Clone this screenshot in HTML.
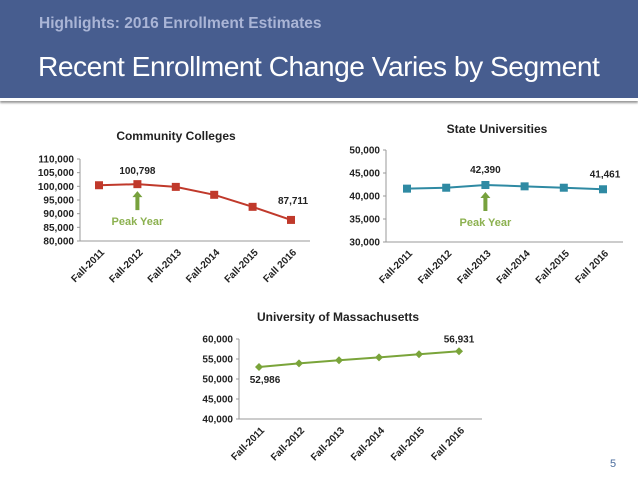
<!DOCTYPE html>
<html><head><meta charset="utf-8"><style>
body{margin:0;width:638px;height:479px;background:#fff;overflow:hidden;font-family:"Liberation Sans",sans-serif;position:relative}
#hdr{position:absolute;left:0;top:0;width:638px;height:98px;background:#475d8f;border-bottom:3px solid #fff;box-shadow:0 2px 2px #999}
#h1{position:absolute;left:39px;top:15px;color:#aab5d6;font-size:15.5px;font-weight:bold}
#h2{position:absolute;left:38px;top:50px;color:#fff;font-size:28.2px;letter-spacing:-0.5px}
#pg{position:absolute;left:610px;top:458px;color:#4b6d9e;font-size:11px}
svg{position:absolute;left:0;top:0}
</style></head><body>
<div id="hdr">
<div id="h1">Highlights: 2016 Enrollment Estimates</div>
<div id="h2">Recent Enrollment Change Varies by Segment</div>
</div>
<div id="pg">5</div>
<svg id="s" width="638" height="479"></svg>
<script>
const categories=["Fall-2011","Fall-2012","Fall-2013","Fall-2014","Fall-2015","Fall 2016"];
const ccValues=[100400,100798,99800,96900,92500,87711];
const suValues=[41600,41800,42390,42100,41800,41461];
const umValues=[52986,53900,54700,55400,56200,56931];
const ccTicks=[80000,85000,90000,95000,100000,105000,110000];
const suTicks=[30000,35000,40000,45000,50000];
const umTicks=[40000,45000,50000,55000,60000];
const NS="http://www.w3.org/2000/svg";
const svg=document.getElementById('s');
function mk(t,a,txt){const e=document.createElementNS(NS,t);for(const k in a)e.setAttribute(k,a[k]);if(txt!=null)e.textContent=txt;svg.appendChild(e);return e;}
const fmt=v=>v.toLocaleString('en-US');
function chart(o){
  const ys=v=>o.yb+(v-o.min)/(o.max-o.min)*(o.yt-o.yb);
  const xs=i=>o.x0+i*o.dx;
  let t=mk('text',{x:o.tx,y:o.ty,'font-size':12,'font-weight':'bold','text-anchor':'middle',fill:'#222'},o.title);
  
  let ax=mk('line',{x1:o.ax,y1:o.yt,x2:o.ax,y2:o.yb,stroke:'#999'});
  
  let xa=mk('line',{x1:o.ax,y1:o.yb,x2:o.xr,y2:o.yb,stroke:'#999'});
  
  o.ticks.forEach(v=>{
    mk('line',{x1:o.ax-3,y1:ys(v),x2:o.ax,y2:ys(v),stroke:'#999'});
    let l=mk('text',{x:o.ax-6,y:ys(v)+3.5,'font-size':10,'font-weight':'bold','text-anchor':'end',fill:'#222'},fmt(v));
    
  });
  categories.forEach((c,i)=>{
    let x=xs(i);
    let l=mk('text',{x:x+6,y:o.yb+12,'font-size':10,'font-weight':'bold','text-anchor':'end',fill:'#222',transform:`rotate(-45 ${x+6} ${o.yb+12})`},c);
    
  });
  let p=mk('polyline',{points:o.vals.map((v,i)=>xs(i)+','+ys(v)).join(' '),fill:'none',stroke:o.color,'stroke-width':2});
  
  o.vals.forEach((v,i)=>{
    let m;
    if(o.diamond)m=mk('polygon',{points:`${xs(i)},${ys(v)-4} ${xs(i)+4},${ys(v)} ${xs(i)},${ys(v)+4} ${xs(i)-4},${ys(v)}`,fill:o.color});
    else m=mk('rect',{x:xs(i)-4,y:ys(v)-4,width:8,height:8,fill:o.color});
    
  });
  o.labels.forEach(([i,dx,dy])=>{
    let l=mk('text',{x:xs(i)+dx,y:ys(o.vals[i])+dy,'font-size':10,'font-weight':'bold','text-anchor':'middle',fill:'#222'},fmt(o.vals[i]));
    
  });
  if(o.peak!=null){
    const x=xs(o.peak),y=ys(o.vals[o.peak]);
    let a=mk('path',{d:`M${x} ${y+7}l-5 6h3v13h4v-13h3z`,fill:'#77a13d'});
    
    let tx=mk('text',{x:x,y:y+41,'font-size':11,'font-weight':'bold','text-anchor':'middle',fill:'#8cb150'},'Peak Year');
    
  }
}
chart({name:'community-colleges',title:'Community Colleges',tx:176,ty:140,ax:80,xr:310,yt:159,yb:241,min:80000,max:110000,x0:99,dx:38.4,vals:ccValues,ticks:ccTicks,color:'#c0392b',labels:[[1,0,-10],[5,2,-16]],peak:1});
chart({name:'state-universities',title:'State Universities',tx:497,ty:133,ax:386,xr:623,yt:150,yb:242,min:30000,max:50000,x0:407,dx:39.2,vals:suValues,ticks:suTicks,color:'#2f8aa3',labels:[[2,0,-12],[5,2,-12]],peak:2});
chart({name:'umass',title:'University of Massachusetts',tx:338,ty:321,ax:239,xr:482,yt:339,yb:419,min:40000,max:60000,x0:259,dx:40,vals:umValues,ticks:umTicks,color:'#7aa43a',diamond:true,labels:[[0,6,16],[5,0,-9]]});
</script>
</body></html>
